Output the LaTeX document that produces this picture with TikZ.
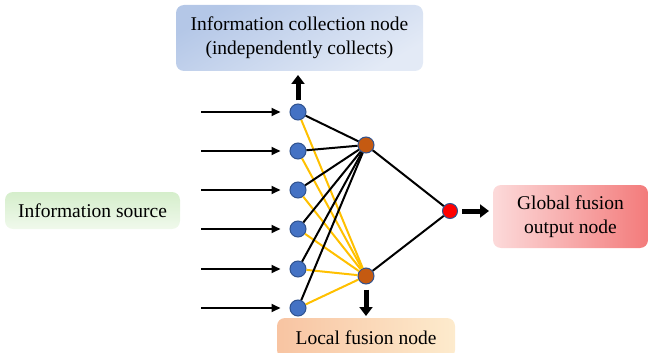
\documentclass[tikz,border=0pt]{standalone}
\usepackage{fontspec}
\setmainfont{Liberation Serif}
\usetikzlibrary{arrows.meta}
\definecolor{sensorfill}{HTML}{4472C4}
\definecolor{sensorline}{HTML}{2F528F}
\definecolor{localfill}{HTML}{C55A11}
\definecolor{linkyellow}{HTML}{FFC000}
\definecolor{collectA}{HTML}{B4C7E7}
\definecolor{collectB}{HTML}{E3EAF6}
\definecolor{sourceA}{HTML}{D5EECB}
\definecolor{sourceB}{HTML}{F0F9EC}
\definecolor{outputA}{HTML}{FCDADA}
\definecolor{outputB}{HTML}{F37B7B}
\definecolor{localA}{HTML}{F8C4A2}
\definecolor{localB}{HTML}{FDEBCD}
\tikzset{
  sensor/.style={circle,draw=sensorline,fill=sensorfill,line width=1pt,minimum size=16pt,inner sep=0pt},
  fusion/.style={circle,draw=sensorline,fill=localfill,line width=1pt,minimum size=16pt,inner sep=0pt},
  globalnode/.style={circle,draw=sensorline,fill=red,line width=1pt,minimum size=15pt,inner sep=0pt},
  labelbox/.style={rounded corners=8pt,align=center,inner sep=0pt,font=\fontsize{19.5}{24}\selectfont},
  fat/.style={line width=5pt,-{Triangle[width=13pt,length=9pt]}},
  thin/.style={line width=2pt,-{Triangle[width=8pt,length=9pt]}},
}
\begin{document}
\begin{tikzpicture}[x=1pt,y=-1pt]
 \useasboundingbox (0,0) rectangle (649,353);
 % text boxes
 \node[labelbox,minimum width=247pt,minimum height=66pt,top color=collectA,bottom color=collectB,shading angle=30]
   (collect) at (299.5,38) {Information collection node\\(independently collects)};
 \node[labelbox,minimum width=175pt,minimum height=37pt,top color=sourceA,bottom color=sourceB]
   (source) at (92.5,210.5) {Information source};
 \node[labelbox,minimum width=155pt,minimum height=63pt,left color=outputA,right color=outputB]
   (output) at (570.5,216.5) {Global fusion\\output node};
 \node[labelbox,minimum width=178pt,minimum height=40pt,left color=localA,right color=localB]
   (local) at (366,338) {Local fusion node};
 % nodes
 \foreach \i/\y in {1/112,2/151,3/190,4/229,5/269,6/308}{
    \node[sensor] (s\i) at (298,\y) {};
    \coordinate (in\i) at (201,\y);
 }
 \node[fusion] (f1) at (366,145) {};
 \node[fusion] (f2) at (366,276) {};
 \node[globalnode] (g) at (450,211) {};
 % links
 \foreach \i in {1,...,6}{
    \draw[line width=2pt] (s\i) -- (f1);
    \draw[line width=2pt,linkyellow] (s\i) -- (f2);
    \draw[thin,shorten >=9pt] (in\i) -- (s\i);
 }
 \draw[line width=2pt] (f1) -- (g) -- (f2);
 % fat arrows
 \coordinate (up) at (298,75);
 \coordinate (down) at (366,316);
 \coordinate (right) at (489,211);
 \draw[fat,shorten <=3pt] (s1.north) -- (up);
 \draw[fat,shorten <=5pt] (f2.south) -- (down);
 \draw[fat,shorten <=4pt] (g.east) -- (right);
\end{tikzpicture}
\end{document}
